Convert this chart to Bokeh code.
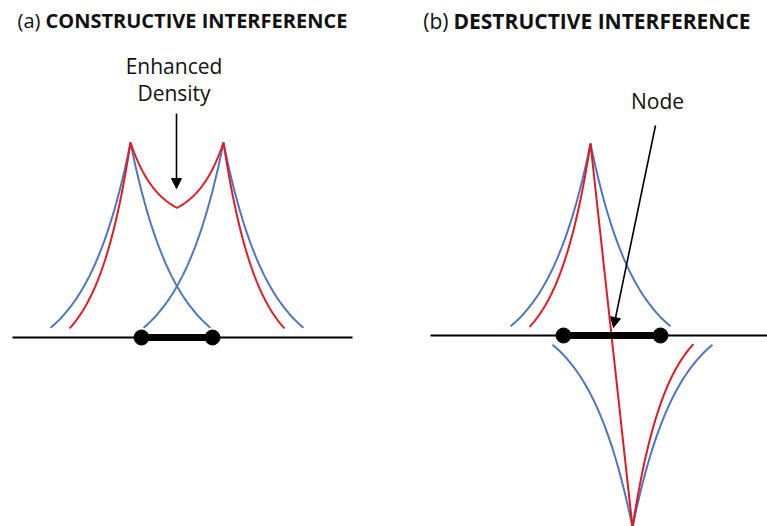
import numpy as np
from bokeh.plotting import figure
from bokeh.layouts import row
from bokeh.models import Range1d, Arrow, NormalHead
from bokeh.core.properties import value
from bokeh.embed import file_html
from bokeh.resources import INLINE

# Units: one unit per screen pixel, origin at the bond midpoint on the axis line.
FONT = "Open Sans"
BLUE = "#4d76bf"
RED = "#e01b24"

# Atomic 1s-like density profile parameters (shared by both panels)
BLUE_FLOOR = -28.0      # asymptote of each decaying branch
BLUE_DECAY = 45.0       # decay length of an isolated atom's profile
BLUE_REACH = 80.0       # how far each branch is drawn from its cusp
RED_OUTER_DECAY = 34.0  # combined profile decays faster on the outside
RED_OUTER_REACH = 61.0

# Panel (a): constructive interference
A_AXIS = [-164.5, 175.5]
A_NUCLEI = [-35.5, 35.5]
A_CUSPS = [-46.5, 46.5]
A_PEAK = 195.0
A_INNER_FLOOR = 115.5   # red profile between the two cusps
A_INNER_DECAY = 27.0
A_TITLE = ["(a)", "CONSTRUCTIVE INTERFERENCE"]
A_LABEL = ["Enhanced", "Density"]
A_ARROW = [(-0.5, 224.0), (-0.5, 149.0)]

# Panel (b): destructive interference
B_AXIS = [-181.5, 155.5]
B_NUCLEI = [-48.5, 48.5]
B_UPPER_CUSP = -21.5
B_LOWER_CUSP = 20.5
B_PEAK = 192.0
B_TITLE = ["(b)", "DESTRUCTIVE INTERFERENCE"]
B_LABEL = ["Node"]
B_ARROW = [(43.5, 210.0), (1.5, 8.0)]


def branch(x0, peak, direction, decay, reach, floor, n=80):
    d = np.linspace(0.0, reach, n)
    y = floor + (peak - floor) * np.exp(-d / decay)
    return x0 + direction * d, y


def make_panel(width, xr, yr):
    p = figure(width=width, height=526, output_backend="svg", toolbar_location=None,
               x_range=Range1d(*xr), y_range=Range1d(*yr), min_border=0,
               x_axis_location=None, y_axis_location=None)
    p.grid.visible = False
    p.outline_line_color = None
    p.background_fill_color = "white"
    p.border_fill_color = "white"
    return p


def bond(p, axis, nuclei):
    p.line(x=axis, y=[0, 0], line_color="black", line_width=1.8)
    p.line(x=nuclei, y=[0, 0], line_color="black", line_width=7)
    p.scatter(x=nuclei, y=[0, 0], size=15, fill_color="black", line_color="black")


def titles(p, texts, x_split, y, size):
    p.text(x=[x_split - 5], y=[y], text=[texts[0]], text_font=value(FONT),
           text_font_size=size, text_align="right", text_baseline="alphabetic",
           text_color="#111111")
    p.text(x=[x_split], y=[y], text=[texts[1]], text_font=value(FONT),
           text_font_size=size, text_font_style="bold", text_align="left",
           text_baseline="alphabetic", text_color="#111111")


def arrow(p, pts):
    (xs, ys), (xe, ye) = pts
    p.add_layout(Arrow(end=NormalHead(size=10, fill_color="black", line_color="black",
                                      line_width=1),
                       x_start=xs, y_start=ys, x_end=xe, y_end=ye,
                       line_color="black", line_width=1.6))


# ---------------- panel (a) ----------------
pa = make_panel(383, (-176.5, 206.5), (-189.0, 337.0))
for cx in A_CUSPS:
    for s in (-1, 1):
        x, y = branch(cx, A_PEAK, s, BLUE_DECAY, BLUE_REACH, BLUE_FLOOR)
        pa.line(x, y, line_color=BLUE, line_width=2)

half_gap = (A_CUSPS[1] - A_CUSPS[0]) / 2
xl, yl = branch(A_CUSPS[0], A_PEAK, -1, RED_OUTER_DECAY, RED_OUTER_REACH, BLUE_FLOOR)
xi1, yi1 = branch(A_CUSPS[0], A_PEAK, 1, A_INNER_DECAY, half_gap, A_INNER_FLOOR)
xi2, yi2 = branch(A_CUSPS[1], A_PEAK, -1, A_INNER_DECAY, half_gap, A_INNER_FLOOR)
xr_, yr_ = branch(A_CUSPS[1], A_PEAK, 1, RED_OUTER_DECAY, RED_OUTER_REACH, BLUE_FLOOR)
red_x = np.concatenate([xl[::-1], xi1, xi2[::-1], xr_])
red_y = np.concatenate([yl[::-1], yi1, yi2[::-1], yr_])
pa.line(red_x, red_y, line_color=RED, line_width=2)

bond(pa, A_AXIS, A_NUCLEI)
arrow(pa, A_ARROW)
pa.text(x=[-3, -3], y=[272, 245], text=A_LABEL, text_font=value(FONT),
        text_font_size="21px", text_align="center", text_baseline="alphabetic",
        text_color="#111111")
titles(pa, A_TITLE, -131.5, 317, "20px")

# ---------------- panel (b) ----------------
pb = make_panel(384, (-228.5, 155.5), (-191.0, 335.0))
for s in (-1, 1):
    x, y = branch(B_UPPER_CUSP, B_PEAK, s, BLUE_DECAY, BLUE_REACH, BLUE_FLOOR)
    pb.line(x, y, line_color=BLUE, line_width=2)
    x, y = branch(B_LOWER_CUSP, B_PEAK, s, BLUE_DECAY, BLUE_REACH, BLUE_FLOOR)
    pb.line(x, -y, line_color=BLUE, line_width=2)

xu, yu = branch(B_UPPER_CUSP, B_PEAK, -1, RED_OUTER_DECAY, RED_OUTER_REACH, BLUE_FLOOR)
xd, yd = branch(B_LOWER_CUSP, B_PEAK, 1, RED_OUTER_DECAY, RED_OUTER_REACH, BLUE_FLOOR)
red_bx = np.concatenate([xu[::-1], xd])
red_by = np.concatenate([yu[::-1], -yd])
pb.line(red_bx, red_by, line_color=RED, line_width=2)

bond(pb, B_AXIS, B_NUCLEI)
arrow(pb, B_ARROW)
pb.text(x=[45.5], y=[235], text=B_LABEL, text_font=value(FONT),
        text_font_size="21px", text_align="center", text_baseline="alphabetic",
        text_color="#111111")
titles(pb, B_TITLE, -158.5, 315, "21px")

layout = row(pa, pb)
open("out.html", "w").write(file_html(layout, INLINE))
